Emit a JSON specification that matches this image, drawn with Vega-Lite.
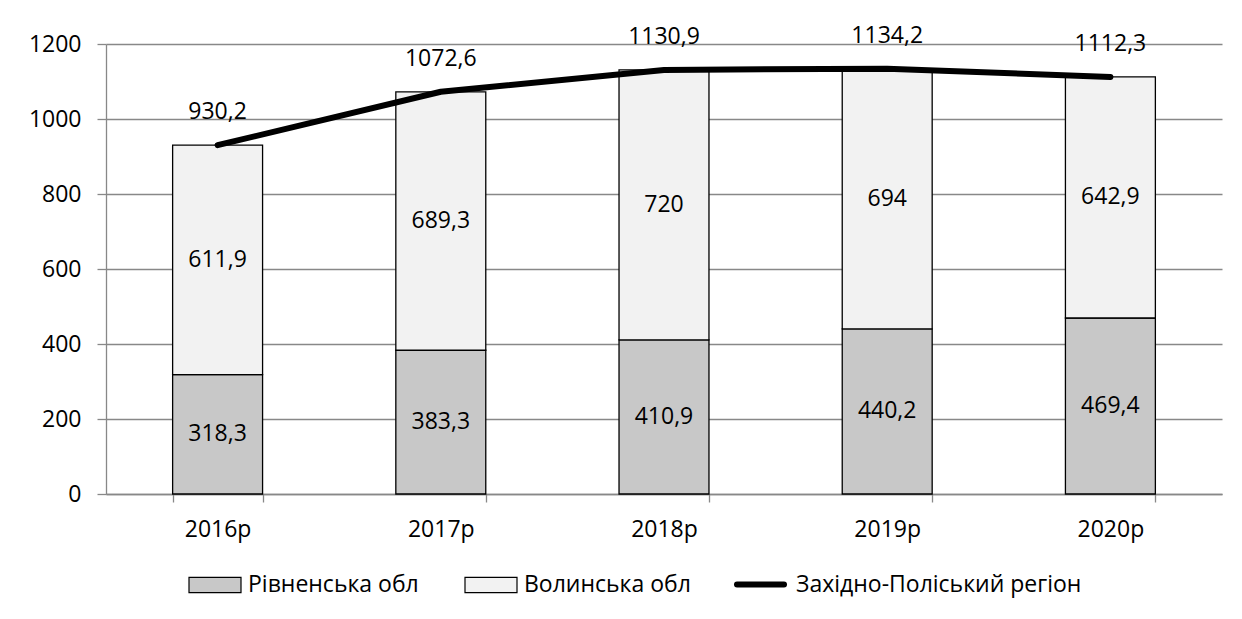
{
  "$schema": "https://vega.github.io/schema/vega-lite/v6.json",
  "autosize": {"type": "none"},
  "width": 1116,
  "height": 450,
  "padding": {"left": 106, "top": 44, "right": 20, "bottom": 125},
  "background": "white",
  "config": {
    "locale": {"number": {"decimal": ",", "thousands": " ", "grouping": [3], "currency": ["", ""]}},
    "font": "Open Sans",
    "view": {"stroke": null},
    "axis": {"labelFont": "Open Sans", "labelFontSize": 23, "labelColor": "#000000", "domainColor": "#888888", "tickColor": "#888888", "gridColor": "#888888", "domainWidth": 1.3, "tickWidth": 1.3, "gridWidth": 1.3, "title": null},
    "legend": {
      "orient": "none", "direction": "horizontal", "title": null,
      "labelFont": "Open Sans", "labelFontSize": 23, "labelColor": "#000000", "labelLimit": 0
    }
  },
  "data": {
    "values": [
      {"year": "2016р", "series": "Рівненська обл", "value": 318.3},
      {"year": "2016р", "series": "Волинська обл", "value": 611.9},
      {"year": "2016р", "series": "Західно-Поліський регіон", "value": 930.2},
      {"year": "2017р", "series": "Рівненська обл", "value": 383.3},
      {"year": "2017р", "series": "Волинська обл", "value": 689.3},
      {"year": "2017р", "series": "Західно-Поліський регіон", "value": 1072.6},
      {"year": "2018р", "series": "Рівненська обл", "value": 410.9},
      {"year": "2018р", "series": "Волинська обл", "value": 720},
      {"year": "2018р", "series": "Західно-Поліський регіон", "value": 1130.9},
      {"year": "2019р", "series": "Рівненська обл", "value": 440.2},
      {"year": "2019р", "series": "Волинська обл", "value": 694},
      {"year": "2019р", "series": "Західно-Поліський регіон", "value": 1134.2},
      {"year": "2020р", "series": "Рівненська обл", "value": 469.4},
      {"year": "2020р", "series": "Волинська обл", "value": 642.9},
      {"year": "2020р", "series": "Західно-Поліський регіон", "value": 1112.3}
    ]
  },
  "encoding": {
    "x": {
      "field": "year", "type": "nominal", "sort": null,
      "scale": {"paddingInner": 0.597, "paddingOuter": 0.2985},
      "axis": {"labelAngle": 0, "tickBand": "extent", "tickSize": 8, "labelPadding": 16, "grid": false}
    }
  },
  "layer": [
    {
      "transform": [{"filter": "datum.series !== 'Західно-Поліський регіон'"}],
      "mark": {"type": "bar", "stroke": "#000000", "strokeWidth": 1.3, "opacity": 1},
      "encoding": {
        "y": {
          "field": "value", "type": "quantitative", "stack": "zero",
          "scale": {"domain": [0, 1200], "nice": false},
          "axis": {"values": [0, 200, 400, 600, 800, 1000, 1200], "format": "d", "tickSize": 9, "labelPadding": 16, "grid": true}
        },
        "fill": {
          "field": "series", "type": "nominal",
          "scale": {"domain": ["Рівненська обл", "Волинська обл"], "range": ["#c8c8c8", "#f2f2f2"]},
          "legend": {
            "legendX": 82, "legendY": 527,
            "symbolType": "M-1,-0.58H3V0.58H-1Z", "symbolSize": 676,
            "symbolStrokeColor": "#000000", "symbolStrokeWidth": 1.2,
            "labelOffset": 32, "columnPadding": 43
          }
        },
        "order": {"field": "series", "sort": "descending"}
      }
    },
    {
      "transform": [{"filter": "datum.series !== 'Західно-Поліський регіон'"}],
      "mark": {"type": "text", "font": "Open Sans", "fontSize": 23, "color": "#000000", "baseline": "middle"},
      "encoding": {
        "y": {"field": "value", "type": "quantitative", "stack": "zero", "bandPosition": 0.5},
        "detail": {"field": "series"},
        "order": {"field": "series", "sort": "descending"},
        "text": {"field": "value", "type": "quantitative", "format": ".1~f"}
      }
    },
    {
      "transform": [{"filter": "datum.series === 'Західно-Поліський регіон'"}],
      "mark": {"type": "line", "strokeWidth": 6, "strokeCap": "round", "strokeJoin": "round"},
      "encoding": {
        "y": {"field": "value", "type": "quantitative"},
        "stroke": {
          "field": "series", "type": "nominal",
          "scale": {"domain": ["Західно-Поліський регіон"], "range": ["#000000"]},
          "legend": {
            "legendX": 628, "legendY": 514,
            "symbolType": "stroke", "symbolSize": 2209, "symbolStrokeWidth": 6,
            "labelOffset": 9,
            "encode": {"symbols": {"update": {"strokeCap": {"value": "round"}}}}
          }
        }
      }
    },
    {
      "transform": [{"filter": "datum.series === 'Західно-Поліський регіон'"}],
      "mark": {"type": "text", "font": "Open Sans", "fontSize": 23, "color": "#000000", "baseline": "middle", "dy": -33},
      "encoding": {
        "y": {"field": "value", "type": "quantitative"},
        "text": {"field": "value", "type": "quantitative", "format": ".1~f"}
      }
    }
  ]
}
